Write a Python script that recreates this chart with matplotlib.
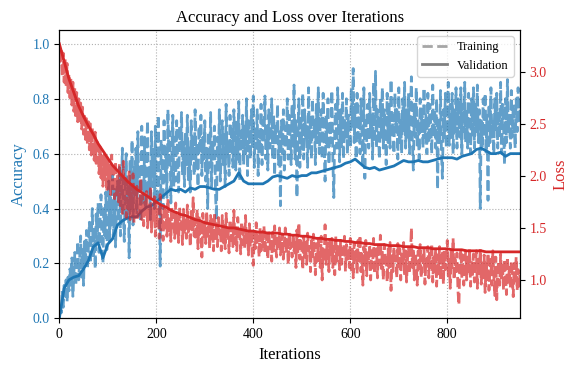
import numpy as np
import matplotlib
matplotlib.use("Agg")
import matplotlib.pyplot as plt
from matplotlib.lines import Line2D

plt.rcParams['font.family'] = ['Liberation Serif', 'DejaVu Serif']

# ---- data ----
train_iters = np.arange(0, 951, 2)
train_acc = [
    0.00, 0.05, 0.02, 0.10, 0.04, 0.12, 0.08, 0.14, 0.06, 0.15,
    0.10, 0.18, 0.12, 0.22, 0.08, 0.16, 0.24, 0.12, 0.20, 0.28,
    0.14, 0.22, 0.30, 0.15, 0.25, 0.12, 0.28, 0.20, 0.32, 0.18,
    0.26, 0.35, 0.20, 0.30, 0.40, 0.22, 0.33, 0.18, 0.38, 0.28,
    0.42, 0.24, 0.36, 0.45, 0.27, 0.20, 0.40, 0.30, 0.46, 0.25,
    0.38, 0.50, 0.28, 0.44, 0.34, 0.52, 0.30, 0.47, 0.26, 0.42,
    0.50, 0.35, 0.55, 0.30, 0.45, 0.62, 0.38, 0.28, 0.52, 0.60,
    0.36, 0.48, 0.22, 0.58, 0.40, 0.65, 0.34, 0.55, 0.45, 0.62,
    0.38, 0.68, 0.45, 0.56, 0.35, 0.70, 0.50, 0.42, 0.66, 0.40,
    0.60, 0.72, 0.44, 0.55, 0.36, 0.68, 0.48, 0.62, 0.40, 0.70,
    0.52, 0.42, 0.74, 0.46, 0.19, 0.65, 0.55, 0.40, 0.72, 0.50,
    0.62, 0.44, 0.76, 0.55, 0.68, 0.42, 0.60, 0.74, 0.48, 0.66,
    0.50, 0.72, 0.58, 0.46, 0.70, 0.62, 0.75, 0.52, 0.64, 0.48,
    0.68, 0.56, 0.74, 0.50, 0.62, 0.46, 0.72, 0.58, 0.66, 0.52,
    0.76, 0.55, 0.64, 0.48, 0.70, 0.60, 0.74, 0.52, 0.66, 0.58,
    0.72, 0.50, 0.62, 0.40, 0.68, 0.55, 0.75, 0.48, 0.64, 0.58,
    0.70, 0.46, 0.36, 0.66, 0.54, 0.76, 0.50, 0.62, 0.72, 0.56,
    0.68, 0.48, 0.78, 0.58, 0.64, 0.52, 0.74, 0.60, 0.70, 0.55,
    0.76, 0.62, 0.54, 0.72, 0.58, 0.79, 0.50, 0.68, 0.62, 0.74,
    0.56, 0.70, 0.60, 0.80, 0.52, 0.72, 0.64, 0.58, 0.76, 0.62,
    0.81, 0.55, 0.70, 0.62, 0.76, 0.52, 0.68, 0.60, 0.78, 0.56,
    0.72, 0.64, 0.81, 0.58, 0.70, 0.54, 0.76, 0.62, 0.66, 0.80,
    0.58, 0.74, 0.52, 0.70, 0.64, 0.78, 0.56, 0.68, 0.41, 0.72,
    0.60, 0.76, 0.54, 0.70, 0.62, 0.80, 0.58, 0.74, 0.66, 0.56,
    0.78, 0.62, 0.85, 0.58, 0.72, 0.44, 0.66, 0.80, 0.55, 0.74,
    0.62, 0.82, 0.58, 0.76, 0.66, 0.70, 0.55, 0.84, 0.62, 0.74,
    0.58, 0.80, 0.66, 0.72, 0.56, 0.78, 0.64, 0.84, 0.60, 0.70,
    0.76, 0.58, 0.82, 0.66, 0.50, 0.74, 0.62, 0.80, 0.56, 0.72,
    0.64, 0.83, 0.58, 0.44, 0.70, 0.78, 0.62, 0.84, 0.66, 0.57,
    0.76, 0.62, 0.82, 0.58, 0.72, 0.66, 0.80, 0.60, 0.74, 0.68,
    0.62, 0.84, 0.70, 0.91, 0.64, 0.78, 0.58, 0.82, 0.66, 0.74,
    0.60, 0.80, 0.68, 0.55, 0.84, 0.51, 0.72, 0.64, 0.78, 0.62,
    0.82, 0.66, 0.74, 0.58, 0.86, 0.64, 0.90, 0.62, 0.76, 0.68,
    0.58, 0.80, 0.66, 0.84, 0.62, 0.76, 0.70, 0.56, 0.82, 0.64,
    0.78, 0.62, 0.87, 0.66, 0.74, 0.60, 0.82, 0.68, 0.76, 0.58,
    0.84, 0.64, 0.72, 0.60, 0.80, 0.68, 0.86, 0.62, 0.76, 0.66,
    0.82, 0.60, 0.74, 0.88, 0.64, 0.54, 0.78, 0.66, 0.84, 0.62,
    0.72, 0.58, 0.80, 0.68, 0.76, 0.62, 0.84, 0.66, 0.74, 0.60,
    0.82, 0.64, 0.78, 0.70, 0.60, 0.85, 0.66, 0.76, 0.62, 0.80,
    0.47, 0.72, 0.64, 0.83, 0.60, 0.51, 0.76, 0.66, 0.82, 0.62,
    0.74, 0.86, 0.63, 0.78, 0.66, 0.82, 0.60, 0.76, 0.68, 0.84,
    0.62, 0.80, 0.70, 0.66, 0.84, 0.60, 0.78, 0.68, 0.86, 0.64,
    0.76, 0.62, 0.82, 0.70, 0.60, 0.80, 0.66, 0.84, 0.62, 0.78,
    0.68, 0.85, 0.64, 0.76, 0.40, 0.72, 0.62, 0.80, 0.66, 0.82,
    0.60, 0.74, 0.43, 0.78, 0.64, 0.84, 0.66, 0.72, 0.60, 0.80,
    0.68, 0.82, 0.62, 0.76, 0.66, 0.86, 0.60, 0.78, 0.70, 0.56,
    0.80, 0.64, 0.87, 0.68, 0.74, 0.62, 0.83, 0.66, 0.78, 0.70,
    0.62, 0.80, 0.68, 0.84, 0.72, 0.76,
]
train_loss = [
    3.25, 3.10, 3.22, 2.95, 3.18, 2.90, 3.12, 2.85, 3.08, 2.80,
    2.98, 2.75, 2.94, 2.68, 2.90, 2.62, 2.85, 2.55, 2.80, 2.52,
    2.74, 2.50, 2.70, 2.45, 2.66, 2.40, 2.60, 2.35, 2.55, 2.30,
    2.52, 2.25, 2.50, 2.20, 2.46, 2.28, 2.15, 2.42, 2.12, 2.35,
    2.24, 2.02, 2.28, 1.98, 2.22, 1.90, 2.20, 1.95, 2.18, 1.85,
    2.16, 1.88, 2.10, 1.82, 2.20, 1.85, 2.06, 1.78, 2.14, 1.82,
    2.00, 1.75, 2.12, 1.70, 2.02, 1.64, 2.14, 1.68, 1.98, 1.60,
    1.95, 1.65, 2.05, 1.58, 1.92, 1.62, 2.02, 1.55, 1.88, 1.60,
    1.90, 1.60, 1.78, 1.65, 1.98, 1.58, 1.82, 1.52, 1.75, 1.62,
    1.85, 1.50, 1.72, 1.58, 1.90, 1.46, 1.70, 1.55, 1.80, 1.42,
    1.75, 1.52, 1.68, 1.40, 1.82, 1.48, 1.62, 1.38, 1.72, 1.50,
    1.66, 1.42, 1.78, 1.46, 1.60, 1.37, 1.70, 1.50, 1.64, 1.40,
    1.74, 1.45, 1.62, 1.36, 1.70, 1.50, 1.58, 1.34, 1.68, 1.44,
    1.60, 1.40, 1.72, 1.46, 1.56, 1.32, 1.66, 1.48, 1.79, 1.42,
    1.58, 1.38, 1.68, 1.30, 1.62, 1.44, 1.55, 1.22, 1.64, 1.40,
    1.56, 1.35, 1.66, 1.42, 1.52, 1.30, 1.62, 1.38, 1.58, 1.28,
    1.65, 1.40, 1.54, 1.32, 1.60, 1.44, 1.50, 1.28, 1.62, 1.36,
    1.55, 1.30, 1.64, 1.42, 1.48, 1.26, 1.58, 1.38, 1.52, 1.32,
    1.67, 1.35, 1.50, 1.28, 1.60, 1.40, 1.46, 1.25, 1.56, 1.34,
    1.50, 1.30, 1.62, 1.36, 1.44, 1.24, 1.54, 1.32, 1.48, 1.20,
    1.14, 1.45, 1.30, 1.55, 1.34, 1.42, 1.22, 1.50, 1.28, 1.46,
    1.32, 1.52, 1.25, 1.44, 1.36, 1.20, 1.48, 1.30, 1.40, 1.18,
    1.46, 1.28, 1.52, 1.34, 1.22, 1.42, 1.30, 1.50, 1.24, 1.38,
    1.44, 1.20, 1.36, 1.50, 1.26, 1.40, 1.15, 1.46, 1.30, 1.35,
    1.22, 1.44, 1.28, 1.38, 1.12, 1.48, 1.25, 1.55, 1.20, 1.40,
    1.30, 1.10, 1.42, 1.22, 1.36, 1.15, 1.45, 1.28, 1.32, 1.08,
    1.38, 1.20, 1.44, 1.25, 1.05, 1.35, 1.18, 1.40, 1.26, 1.12,
    1.42, 1.00, 1.30, 1.20, 1.53, 1.15, 1.36, 1.24, 1.08, 1.38,
    1.22, 1.40, 1.12, 1.32, 1.05, 1.42, 1.18, 1.35, 1.26, 1.10,
    1.38, 1.15, 1.30, 1.22, 1.42, 1.08, 1.34, 1.20, 1.28, 1.12,
    1.40, 1.10, 1.32, 1.02, 1.36, 1.18, 1.28, 1.06, 1.38, 1.15,
    1.43, 1.08, 1.25, 0.95, 1.32, 1.14, 1.38, 1.04, 1.26, 1.18,
    1.34, 1.00, 1.28, 1.12, 1.40, 1.06, 1.22, 1.30, 1.02, 1.36,
    1.15, 1.43, 1.10, 1.28, 1.00, 1.34, 1.18, 1.24, 0.98, 1.30,
    1.12, 1.36, 0.90, 1.26, 1.08, 1.32, 1.16, 1.22, 1.02, 1.35,
    1.10, 1.30, 1.00, 1.25, 1.14, 1.36, 1.04, 1.28, 0.98, 1.20,
    1.32, 1.06, 1.24, 1.50, 1.12, 1.30, 1.00, 1.26, 1.16, 0.95,
    1.28, 1.08, 1.34, 1.02, 1.22, 1.14, 1.30, 0.96, 1.20, 1.10,
    1.32, 1.02, 1.26, 1.12, 1.35, 0.98, 1.22, 1.08, 1.30, 0.94,
    1.24, 1.06, 1.32, 1.00, 1.18, 1.26, 0.96, 1.28, 1.10, 1.20,
    1.38, 1.04, 1.22, 0.92, 1.30, 1.12, 1.40, 1.00, 1.20, 1.08,
    1.26, 0.90, 0.76, 1.18, 1.30, 1.02, 1.24, 0.95, 1.16, 1.28,
    1.00, 1.22, 1.08, 1.30, 0.94, 1.18, 1.04, 1.25, 0.98, 1.14,
    1.28, 0.92, 1.20, 1.06, 1.30, 0.96, 1.16, 1.02, 1.24, 0.88,
    1.18, 1.00, 1.26, 0.90, 1.12, 1.20, 0.95, 1.28, 1.04, 0.85,
    1.22, 0.81, 1.10, 1.18, 0.95, 1.25, 1.02, 1.14, 0.90, 1.20,
    1.06, 0.86, 1.22, 0.98, 1.12, 0.92, 1.18, 1.04, 0.84, 1.16,
    0.96, 1.22, 0.90, 1.10, 0.94, 1.05,
]

val_iters = np.arange(0, 951, 10)
val_acc = [
    0.00, 0.11, 0.14, 0.15, 0.155, 0.18, 0.21, 0.26, 0.275, 0.22,
    0.27, 0.29, 0.34, 0.355, 0.365, 0.37, 0.37, 0.39, 0.405, 0.41,
    0.425, 0.44, 0.455, 0.47, 0.465, 0.47, 0.46, 0.475, 0.47, 0.48,
    0.48, 0.475, 0.47, 0.47, 0.48, 0.49, 0.50, 0.53, 0.50, 0.49,
    0.49, 0.49, 0.49, 0.50, 0.515, 0.52, 0.515, 0.51, 0.52, 0.515,
    0.52, 0.52, 0.53, 0.53, 0.535, 0.54, 0.545, 0.55, 0.555, 0.565,
    0.57, 0.58, 0.565, 0.55, 0.545, 0.55, 0.54, 0.545, 0.55, 0.555,
    0.565, 0.575, 0.57, 0.57, 0.575, 0.57, 0.57, 0.575, 0.58, 0.585,
    0.585, 0.585, 0.58, 0.59, 0.595, 0.60, 0.615, 0.62, 0.61, 0.60,
    0.60, 0.605, 0.59, 0.60, 0.60, 0.60,
]
val_loss = [
    3.27, 3.10, 2.93, 2.80, 2.67, 2.57, 2.48, 2.40, 2.31, 2.24,
    2.17, 2.10, 2.05, 2.00, 1.95, 1.91, 1.87, 1.84, 1.81, 1.78,
    1.75, 1.72, 1.70, 1.67, 1.65, 1.63, 1.62, 1.60, 1.58, 1.57,
    1.55, 1.54, 1.53, 1.52, 1.51, 1.50, 1.50, 1.49, 1.48, 1.47,
    1.47, 1.46, 1.46, 1.45, 1.45, 1.45, 1.44, 1.44, 1.43, 1.43,
    1.42, 1.42, 1.41, 1.40, 1.40, 1.39, 1.39, 1.38, 1.38, 1.37,
    1.37, 1.36, 1.36, 1.35, 1.35, 1.34, 1.34, 1.34, 1.33, 1.33,
    1.33, 1.32, 1.32, 1.32, 1.31, 1.31, 1.31, 1.30, 1.30, 1.30,
    1.30, 1.29, 1.29, 1.29, 1.28, 1.28, 1.28, 1.28, 1.27, 1.27,
    1.27, 1.27, 1.27, 1.27, 1.27, 1.27,
]

acc_color = '#1f77b4'
loss_color = '#d62728'

fig = plt.figure(figsize=(5.78, 3.72), dpi=100)
ax1 = fig.add_axes([0.1026, 0.1444, 0.7971, 0.7746])
ax2 = ax1.twinx()

ax1.plot(train_iters, train_acc, color=acc_color, linestyle='--', linewidth=2, alpha=0.7)
ax1.plot(val_iters, val_acc, color=acc_color, linestyle='-', linewidth=2)
ax2.plot(train_iters, train_loss, color=loss_color, linestyle='--', linewidth=2, alpha=0.7)
ax2.plot(val_iters, val_loss, color=loss_color, linestyle='-', linewidth=2)

ax1.set_xlim(0, 950)
ax1.set_ylim(0, 1.05)
ax2.set_ylim(0.632, 3.40)
ax1.set_xticks([0, 200, 400, 600, 800])
ax1.set_yticks([0.0, 0.2, 0.4, 0.6, 0.8, 1.0])
ax2.set_yticks([1.0, 1.5, 2.0, 2.5, 3.0])

ax1.grid(True, linestyle=':', color='#b0b0b0', linewidth=0.8)
ax1.set_axisbelow(True)

ax1.set_xlabel('Iterations', fontsize=12)
ax1.set_ylabel('Accuracy', color=acc_color, fontsize=12)
ax2.set_ylabel('Loss', color=loss_color, fontsize=12)
ax1.tick_params(axis='y', labelcolor=acc_color, labelsize=10, color='black')
ax1.tick_params(axis='x', labelsize=10)
ax2.tick_params(axis='y', labelcolor=loss_color, labelsize=10, color='black')

ax1.set_title('Accuracy and Loss over Iterations', fontsize=12)

handles = [Line2D([0], [0], color='gray', linestyle='--', linewidth=2, alpha=0.7),
           Line2D([0], [0], color='gray', linestyle='-', linewidth=2)]
ax2.legend(handles, ['Training', 'Validation'], loc='upper right', fontsize=9)

fig.savefig('out.png', dpi=100)
